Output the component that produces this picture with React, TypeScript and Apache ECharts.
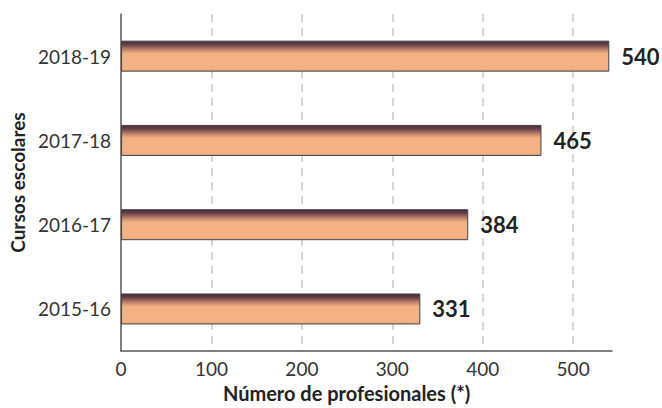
import React, { useEffect, useRef } from "react";
import * as echarts from "echarts";

const categories = ["2015-16", "2016-17", "2017-18", "2018-19"];
const values = [331, 384, 465, 540];
const xTicks = [0, 100, 200, 300, 400, 500];
const xAxisTitle = "Número de profesionales (*)";
const yAxisTitle = "Cursos escolares";

const FONT = "Lato, 'Open Sans', sans-serif";

export default function App() {
  const ref = useRef<HTMLDivElement>(null);
  useEffect(() => {
    if (!ref.current) return;
    const chart = echarts.init(ref.current, null, { renderer: "svg" });
    chart.setOption({
      animation: false,
      backgroundColor: "#ffffff",
      grid: { left: 117, top: 14, right: 50, bottom: 48, containLabel: false },
      xAxis: {
        type: "value",
        min: xTicks[0],
        max: 543,
        interval: xTicks[1] - xTicks[0],
        name: xAxisTitle,
        nameLocation: "middle",
        nameGap: 28,
        nameTextStyle: {
          fontFamily: FONT,
          fontWeight: "bold",
          fontSize: 20,
          color: "#222",
          padding: [0, 40, 0, 0],
        },
        axisLine: { show: true, lineStyle: { color: "#555", width: 1.5 } },
        axisTick: { show: false },
        axisLabel: {
          showMaxLabel: false,
          fontFamily: FONT,
          fontSize: 19,
          color: "#333",
          margin: 8,
        },
        splitLine: {
          show: true,
          showMinLine: false,
          showMaxLine: false,
          lineStyle: { color: "#c8c8c8", width: 1.5, type: [8, 6] },
        },
      },
      yAxis: {
        type: "category",
        data: categories,
        name: yAxisTitle,
        nameLocation: "middle",
        nameGap: 88,
        nameTextStyle: {
          fontFamily: FONT,
          fontWeight: "bold",
          fontSize: 19,
          color: "#222",
        },
        axisLine: { show: true, lineStyle: { color: "#555", width: 1.5 } },
        axisTick: { show: false },
        axisLabel: { fontFamily: FONT, fontSize: 19, color: "#333", margin: 10 },
        splitLine: { show: false },
      },
      series: [
        {
          type: "bar",
          data: values,
          barWidth: 31,
          itemStyle: {
            borderColor: "#444",
            borderWidth: 1,
            color: new echarts.graphic.LinearGradient(0, 0, 0, 1, [
              { offset: 0, color: "#45283a" },
              { offset: 0.12, color: "#6a4249" },
              { offset: 0.3, color: "#c98a6e" },
              { offset: 0.42, color: "#f3b083" },
              { offset: 0.9, color: "#f4b183" },
              { offset: 1, color: "#e9a67c" },
            ]),
          },
          label: {
            show: true,
            position: "right",
            distance: 12,
            fontFamily: FONT,
            fontWeight: "bold",
            fontSize: 22,
            color: "#222",
          },
        },
      ],
    });
    return () => chart.dispose();
  }, []);
  return <div ref={ref} style={{ width: 662, height: 408, position: "absolute", left: 0, top: 0 }} />;
}
